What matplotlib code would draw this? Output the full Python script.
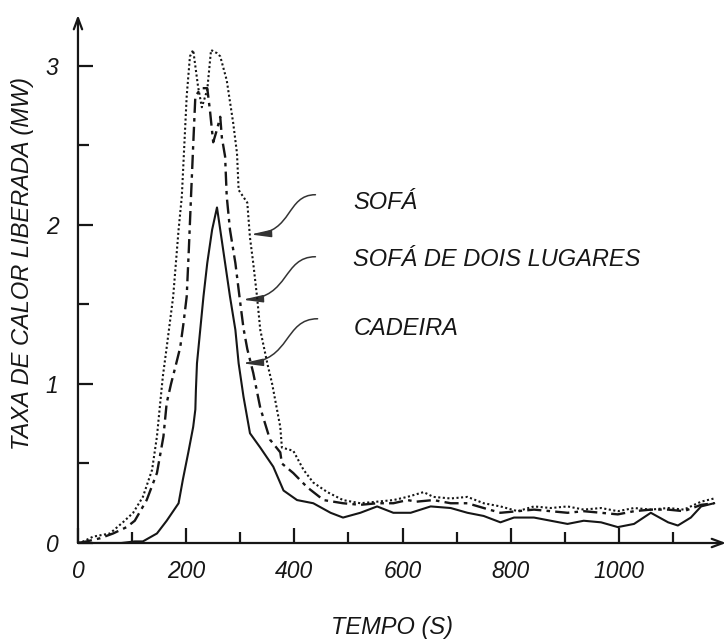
import matplotlib
matplotlib.use("Agg")
import matplotlib.pyplot as plt
from matplotlib.patches import FancyArrowPatch
from matplotlib.path import Path

plt.rcParams["font.family"] = ["Liberation Sans", "DejaVu Sans"]

# dados (tempo em s, taxa de calor em MW)
t_cadeira = [0, 40, 80, 105, 120, 146, 164, 186, 194, 204, 213, 217, 218, 220, 226, 232, 239, 248,
             257, 263, 272, 281, 291, 297, 306, 318, 337, 361, 380, 405, 435, 467, 490, 522, 553,
             583, 615, 652, 689, 720, 750, 781, 806, 843, 874, 905, 935, 967, 998, 1028, 1059,
             1091, 1109, 1133, 1152, 1176]
q_cadeira = [0, 0, 0, 0.01, 0.01, 0.06, 0.14, 0.25, 0.40, 0.57, 0.73, 0.84, 0.96, 1.13, 1.34, 1.55, 1.76, 1.97,
             2.11, 1.97, 1.76, 1.55, 1.34, 1.13, 0.92, 0.69, 0.60, 0.48, 0.33, 0.27, 0.25, 0.19, 0.16, 0.19, 0.23,
             0.19, 0.19, 0.23, 0.22, 0.19, 0.17, 0.13, 0.16, 0.16, 0.14, 0.12, 0.14, 0.13, 0.10, 0.12, 0.19,
             0.13, 0.11, 0.16, 0.23, 0.25]

t_dois = [0, 16, 41, 65, 90, 105, 127, 146, 158, 164, 172, 181, 189, 195, 201, 205, 209, 213, 217,
          228, 239, 244, 250, 257, 263, 266, 272, 275, 281, 291, 300, 306, 313, 324, 337, 355, 374,
          377, 398, 424, 454, 490, 522, 553, 583, 609, 626, 657, 689, 720, 750, 781, 813, 843, 874,
          905, 935, 967, 998, 1028, 1059, 1091, 1120, 1152, 1176]
q_dois = [0, 0.01, 0.03, 0.06, 0.10, 0.14, 0.27, 0.44, 0.67, 0.88, 1.00, 1.12, 1.23, 1.38, 1.55, 1.85, 2.18, 2.50, 2.81,
          2.86, 2.86, 2.72, 2.52, 2.60, 2.68, 2.55, 2.43, 2.18, 1.97, 1.76, 1.51, 1.35, 1.22, 1.07, 0.85, 0.65, 0.57,
          0.50, 0.44, 0.35, 0.27, 0.25, 0.24, 0.25, 0.25, 0.27, 0.26, 0.27, 0.25, 0.25, 0.22, 0.19, 0.20, 0.21, 0.20,
          0.19, 0.20, 0.19, 0.18, 0.20, 0.21, 0.21, 0.20, 0.24, 0.25]

t_sofa = [0, 10, 28, 59, 83, 102, 120, 137, 146, 152, 157, 164, 176, 186, 192, 198, 201, 207, 213,
          222, 229, 239, 246, 257, 263, 275, 287, 294, 297, 313, 318, 324, 331, 337, 350, 359, 374,
          377, 398, 417, 435, 461, 490, 522, 553, 583, 609, 639, 657, 689, 720, 750, 781, 813, 843,
          874, 905, 935, 967, 998, 1028, 1059, 1091, 1120, 1152, 1176]
q_sofa = [0, 0.01, 0.04, 0.06, 0.13, 0.19, 0.29, 0.46, 0.67, 0.88, 1.05, 1.23, 1.55, 1.97, 2.18, 2.60, 2.81, 3.06, 3.10,
          2.87, 2.74, 2.85, 3.10, 3.08, 3.06, 2.91, 2.64, 2.45, 2.22, 2.14, 1.92, 1.76, 1.55, 1.34, 1.13, 1.00, 0.73,
          0.60, 0.58, 0.46, 0.38, 0.32, 0.27, 0.25, 0.26, 0.27, 0.29, 0.32, 0.29, 0.28, 0.29, 0.25, 0.23, 0.20, 0.23,
          0.22, 0.23, 0.21, 0.22, 0.20, 0.22, 0.21, 0.22, 0.21, 0.26, 0.28]

rotulos = ["SOFÁ", "SOFÁ DE DOIS LUGARES", "CADEIRA"]
x_ticks = [0, 200, 400, 600, 800, 1000]
y_ticks = [0, 1, 2, 3]

cor = "#161616"

fig = plt.figure(figsize=(7.26, 6.42), dpi=100)
ax = fig.add_axes([0.1074, 0.1542, 0.8926, 0.8224])

ax.plot(t_sofa, q_sofa, color=cor, lw=1.5, linestyle=(0, (1, 1.2)))
ax.plot(t_dois, q_dois, color=cor, lw=1.7, linestyle=(0, (6, 2.2, 1.5, 2.2)))
ax.plot(t_cadeira, q_cadeira, color=cor, lw=1.5)

ax.set_xlim(0, 1198)
ax.set_ylim(0, 3.32)

for s in ["top", "right", "left", "bottom"]:
    ax.spines[s].set_visible(False)

# eixos com setas
ax.annotate("", xy=(1.0, 0), xytext=(0, 0), xycoords="axes fraction",
            arrowprops=dict(arrowstyle="->,head_length=0.8,head_width=0.3", lw=1.6, color=cor,
                            shrinkA=0, shrinkB=0), annotation_clip=False)
ax.annotate("", xy=(0, 1.0), xytext=(0, 0), xycoords="axes fraction",
            arrowprops=dict(arrowstyle="->,head_length=0.8,head_width=0.3", lw=1.6, color=cor,
                            shrinkA=0, shrinkB=0), annotation_clip=False)

ax.set_xticks(x_ticks)
ax.set_xticks([100, 300, 500, 700, 900, 1100], minor=True)
ax.set_yticks(y_ticks)
ax.set_yticks([0.5, 1.5, 2.5], minor=True)
ax.tick_params(axis="both", which="major", direction="in", length=11, width=1.6, colors=cor,
               labelsize=16.5)
ax.tick_params(axis="both", which="minor", direction="in", length=8, width=1.6, colors=cor)
ax.tick_params(axis="x", which="major", pad=12)
ax.tick_params(axis="y", which="major", pad=14)
for lab in ax.get_xticklabels() + ax.get_yticklabels():
    lab.set_fontstyle("italic")

fig.text(0.031, 0.59, "TAXA DE CALOR LIBERADA (MW)", rotation=90, ha="center", va="center",
         fontsize=17, fontstyle="italic", color=cor)
fig.text(0.54, 0.022, "TEMPO (S)", ha="center", va="center", fontsize=17,
         fontstyle="italic", color=cor)

# rótulos com setas curvas
texto_y = [2.14, 1.78, 1.35]
cauda = [(439, 2.19), (439, 1.80), (443, 1.41)]
ponta = [(319, 1.94), (304, 1.53), (304, 1.13)]
for rot, ty, (x0, y0), (x1, y1) in zip(rotulos, texto_y, cauda, ponta):
    ax.text(509, ty, rot, fontsize=17, fontstyle="italic", color=cor, ha="left", va="center")
    dx = x0 - x1
    dy = y0 - y1
    p = Path([(x0, y0), (x0 - 0.45 * dx, y0), (x0 - 0.35 * dx, y1 + 0.05 * dy), (x1, y1)],
             [Path.MOVETO, Path.CURVE4, Path.CURVE4, Path.CURVE4])
    seta = FancyArrowPatch(path=p, arrowstyle="-|>,head_length=1.0,head_width=0.18",
                           mutation_scale=12, lw=1.1, color="#333333")
    ax.add_patch(seta)

fig.savefig("out.png", dpi=100)
